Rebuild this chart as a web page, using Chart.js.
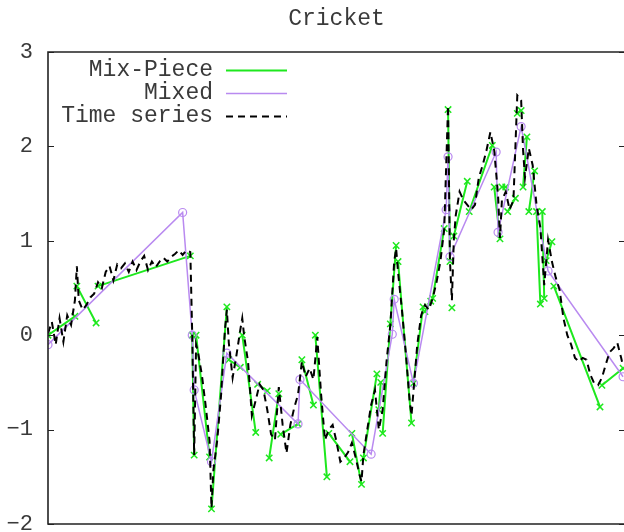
<!DOCTYPE html>
<html>
<head>
<meta charset="utf-8">
<script src="https://cdn.jsdelivr.net/npm/chart.js@4/dist/chart.umd.min.js"></script>
<style>
  html, body { margin: 0; padding: 0; overflow: hidden; background: #fff; }
  #wrap { width: 624px; height: 532px; overflow: hidden; }
  canvas { display: block; }
</style>
</head>
<body>
<div id="wrap"><canvas id="c" width="626" height="532"></canvas></div>
<script>
// ---- data ----
const titleText = 'Cricket';
const seriesNames = ['Mix-Piece', 'Mixed', 'Time series'];
const yTicks = [-2, -1, 0, 1, 2, 3];
const yTickLabels = ['\u22122', '\u22121', '0', '1', '2', '3'];

// raw time series (sample index, value)
const timeIdx = [0,2,4,6,8,10,12,14,15,16,18,20,22,24,26,28,30,32,34,36,38,40,42,44,46,48,50,52,54,56,58,60,62,64,66,68,70,72,74,75,76,77,78,80,82,84,85,86,88,90,92,93,94,96,98,100,101,102,104,106,108,110,112,114,116,118,120,122,124,126,128,130,132,134,136,138,140,142,144,146,148,150,152,154,156,158,160,162,163,164,166,168,170,172,174,176,178,180,181,182,184,186,188,189,190,192,194,196,198,200,202,204,206,208,209,210,211,212,214,216,218,220,222,224,226,228,230,232,234,235,236,238,240,242,244,246,247,248,250,252,254,256,258,260,262,264,266,268,270,272,274,276,278,280,282,284,286,288,290,292,294,296,298,299];
const timeVals = [0.02,0.14,-0.10,0.18,-0.07,0.21,0.11,0.37,0.73,0.37,0.27,0.32,0.40,0.44,0.56,0.50,0.67,0.73,0.58,0.75,0.71,0.76,0.67,0.78,0.69,0.78,0.84,0.69,0.78,0.72,0.78,0.82,0.78,0.83,0.86,0.90,0.85,0.90,0.88,0.00,-1.27,-0.10,-0.18,-0.42,-0.75,-1.12,-1.83,-1.43,-1.11,-0.63,0.06,0.27,-0.08,-0.45,-0.21,0.06,0.18,-0.01,-0.28,-0.85,-0.69,-0.52,-0.58,-0.79,-1.05,-1.11,-0.55,-0.95,-1.25,-0.95,-0.77,-0.63,-0.28,-0.44,-0.35,-0.47,-0.02,-0.63,-1.11,-1.00,-0.95,-1.13,-1.34,-1.30,-1.24,-1.14,-1.30,-1.48,-1.55,-1.27,-1.00,-0.74,-0.58,-1.00,-0.79,-0.28,0.11,0.78,0.92,0.67,0.27,-0.18,-0.69,-0.85,-0.60,-0.10,0.21,0.32,0.27,0.39,0.56,0.78,1.12,2.43,0.78,0.37,1.01,1.27,1.52,1.43,1.38,1.33,1.38,1.67,1.80,1.96,2.15,1.96,1.48,1.03,1.43,1.52,1.33,1.43,2.54,2.49,1.96,1.67,1.98,1.80,1.38,1.14,0.53,1.01,0.78,0.61,0.48,0.18,0.00,-0.10,-0.24,-0.28,-0.24,-0.26,-0.42,-0.51,-0.53,-0.45,-0.31,-0.18,-0.14,-0.08,-0.24,-0.33];

// piecewise approximation built from separate pieces (null = break between pieces)
const mixPieceIdx = [0,14,null,15,25,null,26,74,null,75,76,null,77,84,null,85,93,null,94,100,null,101,108,null,109,114,null,115,120,null,121,130,null,132,138,null,139,145,null,146,157,null,158,163,null,164,171,null,172,173,null,174,178,181,null,182,189,null,190,195,null,196,199,null,200,206,null,208,209,null,210,null,211,218,null,219,231,null,232,235,null,236,238,null,239,243,null,244,246,null,247,249,null,250,253,null,254,256,null,257,258,null,259,262,null,263,287,null,288,299];
const mixPieceVals = [0.00,0.20,null,0.52,0.13,null,0.52,0.84,null,0.00,-1.27,null,0.00,-1.29,null,-1.84,0.30,null,-0.26,-0.34,null,0.00,-1.03,null,-0.52,-0.59,null,-1.30,-0.62,null,-1.05,-0.94,null,-0.26,-0.74,null,0.00,-1.50,null,-1.04,-1.34,null,-1.04,-1.58,null,-1.30,-0.41,null,-0.79,-0.50,null,-1.04,0.12,0.95,null,0.78,-0.93,null,-0.51,0.30,null,0.25,0.36,null,0.39,1.13,null,2.39,0.78,null,0.29,null,1.05,1.63,null,1.31,2.01,null,1.57,1.02,null,1.57,1.57,null,1.31,1.45,null,2.35,2.38,null,1.57,2.10,null,1.31,1.74,null,1.31,0.33,null,1.31,0.39,null,0.79,0.99,null,0.52,-0.76,null,-0.53,-0.35];

// mixed approximation (continuous polyline)
const mixedIdx = [0,70,75,76,85,93,130,131,168,179,180,190,207,208,209,233,234,246,260,299];
const mixedVals = [-0.10,1.30,0.00,-0.58,-1.34,-0.19,-0.94,-0.47,-1.26,0.01,0.38,-0.51,1.33,1.89,0.83,1.94,1.09,2.21,0.68,-0.44];

// ---- styling ----
const FONT = '"Liberation Mono", "DejaVu Sans Mono", monospace';
const FONT_SIZE = 23;
const TEXT_COLOR = '#3a3a3a';
const GREEN = '#1ee81e';
const PURPLE = '#b98af0';

function toPoints(xs, ys) {
  const out = [];
  for (let i = 0; i < xs.length; i++) {
    if (xs[i] === null || ys[i] === null) {
      const px = out.length ? out[out.length - 1].x + 0.5 : 0;
      out.push({ x: px, y: null });
    } else {
      out.push({ x: xs[i], y: ys[i] });
    }
  }
  return out;
}

// frame, mirror ticks, title and key in the style of a plain plotting terminal
const decorations = {
  id: 'decorations',
  afterDatasetsDraw(chart) {
    const { ctx, chartArea: a, scales } = chart;
    const y = scales.y;
    ctx.save();
    ctx.strokeStyle = '#222';
    ctx.lineWidth = 1.6;
    ctx.beginPath();
    ctx.moveTo(a.right + 2, a.top);
    ctx.lineTo(a.left, a.top);
    ctx.lineTo(a.left, a.bottom);
    ctx.lineTo(a.right + 2, a.bottom);
    ctx.stroke();
    ctx.lineWidth = 1.2;
    ctx.beginPath();
    yTicks.forEach(v => {
      const py = Math.round(y.getPixelForValue(v)) + 0.5;
      ctx.moveTo(a.left, py); ctx.lineTo(a.left + 6, py);
      ctx.moveTo(a.right - 6, py); ctx.lineTo(a.right, py);
    });
    ctx.stroke();
    ctx.restore();
  },
  afterDraw(chart) {
    const { ctx, chartArea: a } = chart;
    ctx.save();
    ctx.fillStyle = TEXT_COLOR;
    ctx.font = FONT_SIZE + 'px ' + FONT;
    ctx.textBaseline = 'middle';
    ctx.textAlign = 'center';
    ctx.fillText(titleText, (a.left + a.right) / 2, 19);

    // key
    const textRight = a.left + 165;
    const lineX0 = a.left + 178, lineX1 = a.left + 239;
    chart.data.datasets.forEach((ds, i) => {
      const yy = a.top + 18 + i * 23;
      ctx.textAlign = 'right';
      ctx.fillStyle = TEXT_COLOR;
      ctx.fillText(ds.label, textRight, yy);
      ctx.strokeStyle = ds.borderColor;
      ctx.lineWidth = ds.borderWidth;
      ctx.setLineDash(ds.borderDash || []);
      ctx.beginPath();
      ctx.moveTo(lineX0, yy + 0.5);
      ctx.lineTo(lineX1, yy + 0.5);
      ctx.stroke();
      ctx.setLineDash([]);
    });
    ctx.restore();
  }
};

new Chart(document.getElementById('c'), {
  type: 'line',
  data: {
    datasets: [
      {
        label: seriesNames[0],
        data: toPoints(mixPieceIdx, mixPieceVals),
        borderColor: GREEN,
        backgroundColor: GREEN,
        borderWidth: 2,
        pointStyle: 'crossRot',
        pointRadius: 4.5,
        pointBorderWidth: 1.5,
        pointBorderColor: GREEN,
        spanGaps: false,
        tension: 0,
        order: 2
      },
      {
        label: seriesNames[1],
        data: toPoints(mixedIdx, mixedVals),
        borderColor: PURPLE,
        backgroundColor: 'rgba(0,0,0,0)',
        borderWidth: 1.5,
        pointStyle: 'circle',
        pointRadius: 4,
        pointBorderWidth: 1.2,
        pointBorderColor: PURPLE,
        pointBackgroundColor: 'rgba(0,0,0,0)',
        tension: 0,
        order: 1
      },
      {
        label: seriesNames[2],
        data: toPoints(timeIdx, timeVals),
        borderColor: '#000',
        borderWidth: 2,
        borderDash: [7, 5],
        pointRadius: 0,
        tension: 0,
        order: 0
      }
    ]
  },
  options: {
    responsive: false,
    animation: false,
    events: [],
    layout: { autoPadding: false, padding: { left: 0, right: 1, top: 52, bottom: 8 } },
    scales: {
      x: { type: 'linear', min: 0, max: 300, display: false },
      y: {
        type: 'linear',
        min: -2, max: 3,
        afterBuildTicks(scale) { scale.ticks = yTicks.map(v => ({ value: v })); },
        afterFit(scale) { scale.width = 48; scale.paddingTop = 0; scale.paddingBottom = 0; },
        grid: { display: false, drawTicks: false },
        border: { display: false },
        ticks: {
          padding: 15,
          color: TEXT_COLOR,
          font: { family: FONT, size: 22 },
          callback: (v) => yTickLabels[yTicks.indexOf(v)]
        }
      }
    },
    plugins: { legend: { display: false }, title: { display: false }, tooltip: { enabled: false } }
  },
  plugins: [decorations]
});
</script>
</body>
</html>
